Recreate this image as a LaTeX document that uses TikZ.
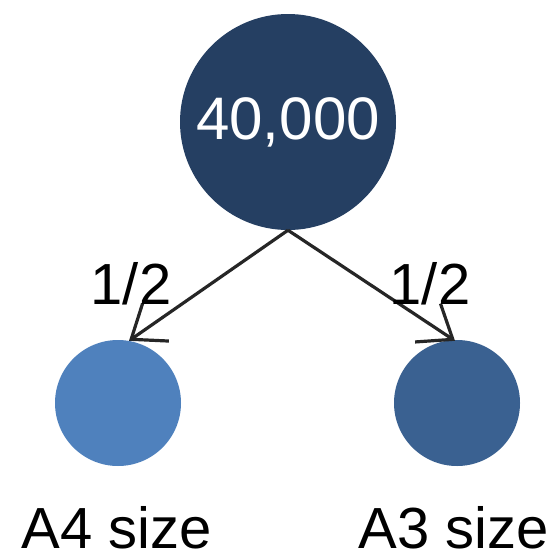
\documentclass[tikz,border=0pt]{standalone}
\usepackage{fontspec}
\setmainfont{Liberation Sans}
\usetikzlibrary{arrows.meta}
\definecolor{topfill}{HTML}{253F62}
\definecolor{leftfill}{HTML}{4F81BD}
\definecolor{rightfill}{HTML}{3A6191}
\tikzset{
  ball/.style={circle, draw=none, inner sep=0pt},
  split/.style={draw=black!85, line width=3.2pt,
    -{Straight Barb[length=30pt,width=46pt,line width=3.2pt]}},
  lbl/.style={font=\fontsize{58}{60}\selectfont, inner sep=0pt}
}
\begin{document}
\begin{tikzpicture}[x=1pt,y=-1pt]
  \useasboundingbox (0,0) rectangle (553,554);
  \node[ball, fill=topfill, minimum size=216pt, text=white,
        font=\fontsize{60}{62}\selectfont] (top) at (288,122) {40,000};
  \node[ball, fill=leftfill, minimum size=126pt] (a4) at (118,403) {};
  \node[ball, fill=rightfill, minimum size=126pt] (a3) at (457,403) {};
  \draw[split] (top.south) -- ([xshift=11pt,yshift=-1pt]a4.north);
  \draw[split] (top.south) -- ([xshift=-2pt,yshift=-1pt]a3.north);
  \node[lbl] (h1) at (131,284) {1/2};
  \node[lbl] (h2) at (430,284) {1/2};
  \node[lbl, anchor=base] (n4) at (117,548) {A4 size};
  \node[lbl, anchor=base] (n3) at (454,548) {A3 size};
\end{tikzpicture}
\end{document}
